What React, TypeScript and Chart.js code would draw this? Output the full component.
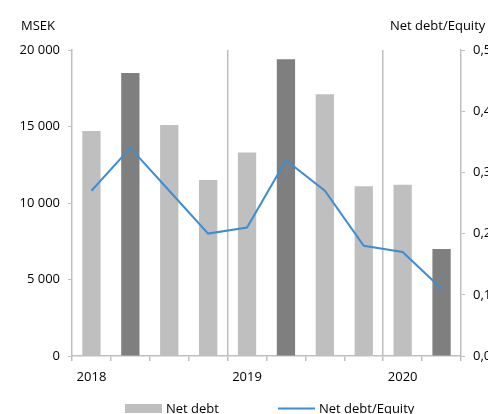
import React, { useEffect, useRef } from "react";
import { Chart, registerables } from "chart.js";

Chart.register(...registerables);

// Quarterly periods and the year label shown under each Q1
const quarters = [
  "Q1 2018", "Q2 2018", "Q3 2018", "Q4 2018",
  "Q1 2019", "Q2 2019", "Q3 2019", "Q4 2019",
  "Q1 2020", "Q2 2020",
];
const netDebt = [14700, 18500, 15100, 11500, 13300, 19400, 17100, 11100, 11200, 7000];
const netDebtEquity = [0.27, 0.34, 0.27, 0.2, 0.21, 0.32, 0.27, 0.18, 0.17, 0.11];
const leftTicks = [0, 5000, 10000, 15000, 20000];
const rightTicks = [0, 0.1, 0.2, 0.3, 0.4, 0.5];

// Quarters whose bar is shaded darker, and category boundaries with a year divider
const darkBars = [1, 5, 9];
const yearDividers = [4, 8];

const FONT = "'Open Sans', sans-serif";
const LIGHT = "#bfbfbf";
const DARK = "#7f7f7f";
const BLUE = "#3d8dd2";
const AXIS = "#bfbfbf";

const fmtThousands = (v: number) => String(v).replace(/\B(?=(\d{3})+(?!\d))/g, " ");
const fmtRatio = (v: number) => v.toFixed(1).replace(".", ",");

const annotations = {
  id: "annotations",
  afterDraw(chart: Chart) {
    const { ctx } = chart;
    ctx.save();
    ctx.font = `13px ${FONT}`;
    ctx.fillStyle = "#000";
    ctx.textBaseline = "alphabetic";
    ctx.textAlign = "left";
    // axis captions
    ctx.fillText("MSEK", 21, 30);
    ctx.fillText("Net debt/Equity", 390, 30);

    // legend
    const barDs = chart.data.datasets[1];
    const lineDs = chart.data.datasets[0];
    ctx.fillStyle = LIGHT;
    ctx.fillRect(125, 404, 37, 9);
    ctx.fillStyle = "#000";
    ctx.fillText(String(barDs.label), 166, 413);
    ctx.strokeStyle = BLUE;
    ctx.lineWidth = 2;
    ctx.beginPath();
    ctx.moveTo(278, 408.5);
    ctx.lineTo(315, 408.5);
    ctx.stroke();
    ctx.fillText(String(lineDs.label), 319, 413);
    ctx.restore();
  },
};

export default function App() {
  const canvasRef = useRef<HTMLCanvasElement>(null);

  useEffect(() => {
    if (!canvasRef.current) return;
    const chart = new Chart(canvasRef.current, {
      type: "bar",
      data: {
        labels: quarters,
        datasets: [
          {
            type: "line",
            label: "Net debt/Equity",
            data: netDebtEquity,
            yAxisID: "yRight",
            borderColor: BLUE,
            borderWidth: 2,
            pointRadius: 0,
            tension: 0,
            order: 0,
          },
          {
            type: "bar",
            label: "Net debt",
            data: netDebt,
            yAxisID: "yLeft",
            backgroundColor: netDebt.map((_, i) => (darkBars.includes(i) ? DARK : LIGHT)),
            categoryPercentage: 1,
            barPercentage: 0.47,
            order: 1,
          },
        ],
      },
      options: {
        responsive: false,
        animation: false,
        layout: { padding: { top: 50, left: 0, right: 0, bottom: 0 } },
        plugins: {
          legend: { display: false },
          tooltip: { enabled: false },
        },
        scales: {
          x: {
            type: "category",
            offset: true,
            afterFit: (s: any) => {
              s.height = 58;
            },
            grid: {
              offset: true,
              drawOnChartArea: true,
              color: (c: any) => (yearDividers.includes(c.index) ? AXIS : "rgba(0,0,0,0)"),
              lineWidth: 1.5,
              tickColor: AXIS,
              tickLength: 5,
            },
            border: { display: true, color: AXIS, width: 1.5 },
            ticks: {
              autoSkip: false,
              maxRotation: 0,
              padding: 8,
              color: "#000",
              font: { family: FONT, size: 13 },
              callback: (_v: any, i: number) =>
                quarters[i].startsWith("Q1") ? quarters[i].split(" ")[1] : "",
            },
          },
          yLeft: {
            type: "linear",
            position: "left",
            min: 0,
            max: 20000,
            afterFit: (s: any) => {
              s.width = 72;
            },
            afterBuildTicks: (s: any) => {
              s.ticks = leftTicks.map((v) => ({ value: v }));
            },
            grid: { drawOnChartArea: false, tickColor: AXIS, tickLength: 4 },
            border: { display: true, color: AXIS, width: 1.5 },
            ticks: {
              padding: 8,
              color: "#000",
              font: { family: FONT, size: 13 },
              callback: (v: any) => fmtThousands(Number(v)),
            },
          },
          yRight: {
            type: "linear",
            position: "right",
            min: 0,
            max: 0.5,
            afterFit: (s: any) => {
              s.width = 27;
            },
            afterBuildTicks: (s: any) => {
              s.ticks = rightTicks.map((v) => ({ value: v }));
            },
            grid: { drawOnChartArea: false, tickColor: AXIS, tickLength: 4 },
            border: { display: true, color: AXIS, width: 1.5 },
            ticks: {
              padding: 8,
              color: "#000",
              font: { family: FONT, size: 13 },
              callback: (v: any) => fmtRatio(Number(v)),
            },
          },
        },
      },
      plugins: [annotations],
    });
    return () => chart.destroy();
  }, []);

  return (
    <div style={{ position: "fixed", left: 0, top: 0, width: 488, height: 414, background: "#fff" }}>
      <canvas ref={canvasRef} width={488} height={414} style={{ display: "block" }} />
    </div>
  );
}
